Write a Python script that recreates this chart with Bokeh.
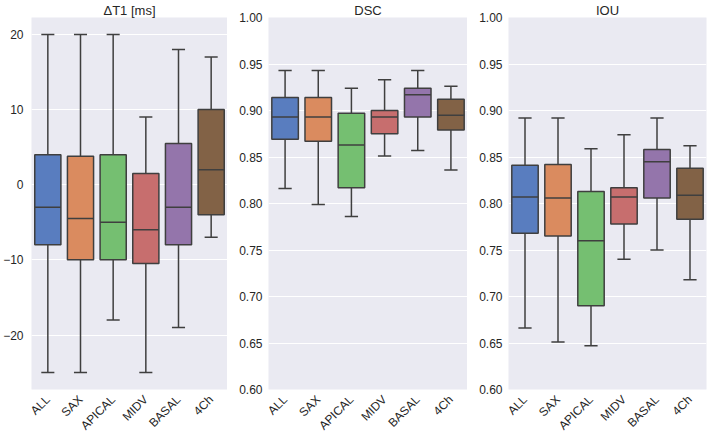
from bokeh.plotting import figure
from bokeh.layouts import row
from bokeh.models import Range1d, FixedTicker, ColumnDataSource, CustomJSTickFormatter
from bokeh.transform import dodge
from bokeh.embed import file_html
from bokeh.resources import INLINE
import math

categories = ["ALL", "SAX", "APICAL", "MIDV", "BASAL", "4Ch"]
colors = ["#597DBF", "#DA8B5F", "#75BF71", "#C76E6E", "#9475AB", "#826246"]

# Delta T1 [ms]
t1_low = [-25, -25, -18, -25, -19, -7]
t1_q1 = [-8, -10, -10, -10.5, -8, -4]
t1_med = [-3, -4.5, -5, -6, -3, 2]
t1_q3 = [4, 3.8, 4, 1.5, 5.5, 10]
t1_high = [20, 20, 20, 9, 18, 17]

# DSC
dsc_low = [0.816, 0.799, 0.786, 0.851, 0.857, 0.836]
dsc_q1 = [0.869, 0.867, 0.817, 0.875, 0.893, 0.879]
dsc_med = [0.893, 0.893, 0.863, 0.893, 0.917, 0.895]
dsc_q3 = [0.914, 0.914, 0.897, 0.900, 0.924, 0.912]
dsc_high = [0.943, 0.943, 0.924, 0.933, 0.943, 0.926]

# IOU
iou_low = [0.666, 0.651, 0.647, 0.740, 0.750, 0.718]
iou_q1 = [0.768, 0.765, 0.690, 0.778, 0.806, 0.783]
iou_med = [0.807, 0.806, 0.760, 0.807, 0.845, 0.809]
iou_q3 = [0.841, 0.842, 0.813, 0.817, 0.858, 0.838]
iou_high = [0.892, 0.892, 0.859, 0.874, 0.892, 0.862]

t1_ticks = [-20, -10, 0, 10, 20]
score_ticks = [0.60, 0.65, 0.70, 0.75, 0.80, 0.85, 0.90, 0.95, 1.00]

BG = "#EAEAF2"
LINE = "#3F3F3F"
TXT = "#262626"
FONT = "Liberation Sans"


def make_panel(title, low, q1, med, q3, high, yr, ticks, fmt, left, width, right, ystand):
    p = figure(x_range=categories, y_range=yr, width=width, height=440,
               output_backend="svg", toolbar_location=None, title=title,
               min_border_left=left, min_border_right=right,
               min_border_top=16, min_border_bottom=46)
    p.background_fill_color = BG
    p.border_fill_color = "white"
    p.outline_line_color = None
    p.title.align = "center"
    p.title.text_font = FONT
    p.title.text_font_size = "13px"
    p.title.text_font_style = "normal"
    p.title.text_color = TXT
    p.title.standoff = 0
    p.title.offset = 0

    src = ColumnDataSource(dict(cat=categories, low=low, q1=q1, med=med, q3=q3,
                                high=high, color=colors))
    # whiskers
    p.segment(x0="cat", y0="q3", x1="cat", y1="high", source=src,
              line_color=LINE, line_width=1.5)
    p.segment(x0="cat", y0="q1", x1="cat", y1="low", source=src,
              line_color=LINE, line_width=1.5)
    # caps
    p.segment(x0=dodge("cat", -0.2, range=p.x_range), y0="high",
              x1=dodge("cat", 0.2, range=p.x_range), y1="high", source=src,
              line_color=LINE, line_width=1.5)
    p.segment(x0=dodge("cat", -0.2, range=p.x_range), y0="low",
              x1=dodge("cat", 0.2, range=p.x_range), y1="low", source=src,
              line_color=LINE, line_width=1.5)
    # boxes
    p.vbar(x="cat", top="q3", bottom="q1", width=0.8, source=src,
           fill_color="color", line_color=LINE, line_width=1.5)
    # medians
    p.segment(x0=dodge("cat", -0.4, range=p.x_range), y0="med",
              x1=dodge("cat", 0.4, range=p.x_range), y1="med", source=src,
              line_color=LINE, line_width=1.5)

    p.xgrid.grid_line_color = None
    p.ygrid.grid_line_color = "white"
    p.ygrid.grid_line_width = 1
    p.yaxis.ticker = FixedTicker(ticks=ticks)
    if fmt:
        p.yaxis.formatter = CustomJSTickFormatter(code="return tick.toFixed(2);")
    for ax in (p.xaxis, p.yaxis):
        ax.axis_line_color = None
        ax.major_tick_line_color = None
        ax.minor_tick_line_color = None
        ax.major_tick_out = 0
        ax.major_tick_in = 0
        ax.minor_tick_out = 0
        ax.major_label_text_font = FONT
        ax.major_label_text_font_size = "12px"
        ax.major_label_text_color = TXT
    p.yaxis.major_label_standoff = ystand
    p.xaxis.major_label_standoff = 8
    p.xaxis.major_label_text_line_height = 1.0
    p.xaxis.major_label_orientation = math.pi / 4
    p.x_range.range_padding = 0
    return p


p1 = make_panel("ΔT1 [ms]", t1_low, t1_q1, t1_med, t1_q3, t1_high,
                Range1d(-27.25, 22.25), t1_ticks, False, 29, 227, 0, 8)
p2 = make_panel("DSC", dsc_low, dsc_q1, dsc_med, dsc_q3, dsc_high,
                Range1d(0.6, 1.0), score_ticks, True, 41, 240, 0, 6)
p3 = make_panel("IOU", iou_low, iou_q1, iou_med, iou_q3, iou_high,
                Range1d(0.6, 1.0), score_ticks, True, 41, 241, 2, 6)

layout = row(p1, p2, p3)
open("out.html", "w").write(file_html(layout, INLINE))
